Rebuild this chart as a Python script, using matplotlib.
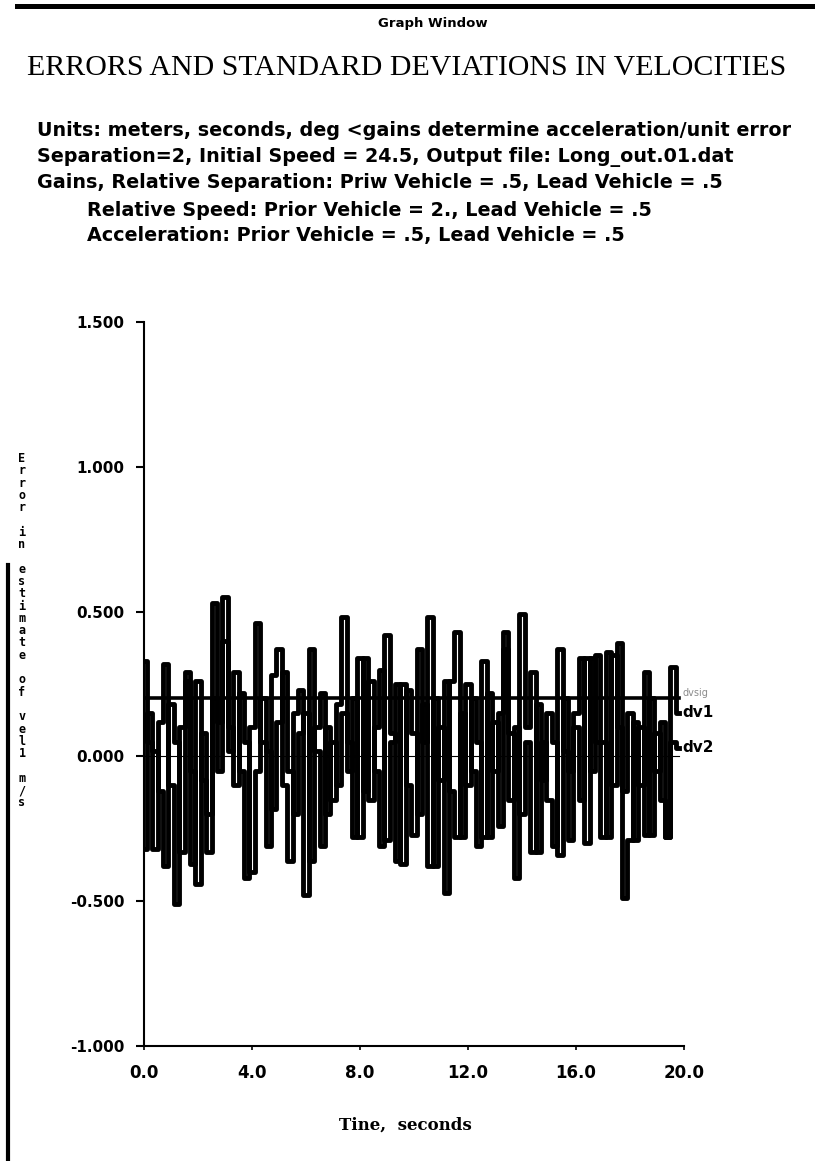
import matplotlib
matplotlib.use("Agg")
import matplotlib.pyplot as plt
from matplotlib.lines import Line2D
from matplotlib.patches import Rectangle
import numpy as np

# time base (s) and the two velocity error series
t = [round(0.2 * i, 1) for i in range(100)]

dv1 = [0.33, 0.05, -0.32, 0.12, 0.32, -0.10, -0.51, 0.10, 0.29, -0.05,
       -0.44, 0.08, -0.20, 0.53, 0.12, 0.40, 0.02, 0.29, -0.05, -0.42,
       0.10, 0.46, 0.05, -0.31, 0.28, 0.37, -0.10, -0.36, 0.15, 0.23,
       -0.48, 0.37, 0.02, -0.31, 0.10, -0.15, 0.18, 0.48, 0.05, -0.28,
       0.34, -0.12, 0.26, -0.05, -0.31, 0.42, 0.08, -0.36, 0.25, -0.10,
       -0.27, 0.37, 0.05, 0.48, -0.38, 0.10, -0.47, 0.26, 0.43, -0.28,
       0.25, -0.05, -0.31, 0.33, -0.28, 0.12, -0.24, 0.43, 0.08, -0.42,
       0.49, 0.10, 0.29, -0.33, 0.05, -0.15, -0.31, 0.37, 0.02, -0.29,
       0.15, 0.34, -0.30, 0.34, 0.05, -0.28, 0.36, -0.10, 0.39, -0.49,
       -0.29, 0.12, -0.10, 0.29, -0.27, 0.08, -0.15, -0.28, 0.31, 0.15]

dv2 = [-0.32, 0.15, 0.02, -0.12, -0.38, 0.18, 0.05, -0.33, 0.26, -0.37,
       0.26, -0.08, -0.33, 0.20, -0.05, 0.55, 0.10, -0.10, 0.22, 0.05,
       -0.40, -0.05, 0.20, 0.02, -0.18, 0.12, 0.29, -0.05, -0.20, 0.08,
       0.15, -0.36, 0.10, 0.22, -0.20, 0.05, -0.10, 0.15, -0.05, 0.20,
       -0.28, 0.34, -0.15, 0.10, 0.30, -0.29, 0.05, 0.25, -0.37, 0.23,
       0.08, -0.20, 0.18, -0.38, 0.20, -0.08, 0.26, -0.12, -0.28, 0.15,
       -0.10, 0.20, 0.05, -0.28, 0.22, -0.05, 0.15, 0.37, -0.15, 0.10,
       -0.20, 0.05, -0.33, 0.18, -0.08, 0.15, 0.05, -0.34, 0.20, -0.05,
       0.10, -0.15, 0.34, -0.05, 0.35, 0.05, -0.28, 0.35, 0.10, -0.12,
       0.15, -0.29, 0.10, -0.27, 0.20, -0.05, 0.12, -0.28, 0.05, 0.03]

dv_sigma = 0.2

x_ticks = [0.0, 4.0, 8.0, 12.0, 16.0, 20.0]
y_ticks = [-1.0, -0.5, 0.0, 0.5, 1.0, 1.5]

header_lines = [
    "Units: meters, seconds, deg <gains determine acceleration/unit error",
    "Separation=2, Initial Speed = 24.5, Output file: Long_out.01.dat",
    "Gains, Relative Separation: Priw Vehicle = .5, Lead Vehicle = .5",
    "Relative Speed: Prior Vehicle = 2., Lead Vehicle = .5",
    "Acceleration: Prior Vehicle = .5, Lead Vehicle = .5",
]

W, H = 815, 1161
fig = plt.figure(figsize=(W / 100, H / 100), dpi=100)
fig.patch.set_facecolor("white")


def fx(px):
    return px / W


def fy(py):
    return 1 - py / H


# window bar and caption
fig.add_artist(Rectangle((fx(15), fy(9)), fx(800), 5 / H, transform=fig.transFigure,
                         color="black", lw=0))
fig.text(fx(433), fy(23), "Graph Window", ha="center", va="center",
         fontsize=9.5, fontweight="bold")
fig.text(fx(407), fy(68), "ERRORS AND STANDARD DEVIATIONS IN VELOCITIES",
         ha="center", va="center", fontsize=21.5, family="Liberation Serif")

xs = [37, 37, 37, 87, 87]
ys = [131, 157, 183, 210, 236]
for x0, y0, line in zip(xs, ys, header_lines):
    fig.text(fx(x0), fy(y0), line, ha="left", va="center",
             fontsize=13.8, fontweight="bold")

# left border line
fig.add_artist(Line2D([fx(8), fx(8)], [fy(565), 0], transform=fig.transFigure,
                      color="black", lw=3))

ax = fig.add_axes([fx(144), fy(1046), fx(684 - 144), (1046 - 322) / H])
ax.plot(t, dv1, color="black", lw=3.5, drawstyle="steps-mid")
ax.plot(t, dv2, color="black", lw=3.5, drawstyle="steps-mid")
ax.plot([t[0], t[-1]], [dv_sigma, dv_sigma], color="black", lw=2.6)
ax.plot([t[0], t[-1]], [0, 0], color="black", lw=0.8)

ax.set_xlim(0, 20)
ax.set_ylim(-1.0, 1.5)
ax.set_xticks(x_ticks)
ax.set_xticklabels([f"{v:.1f}" for v in x_ticks])
ax.set_yticks(y_ticks)
ax.set_yticklabels([f"{v:.3f}" for v in y_ticks])
for s in ["top", "right"]:
    ax.spines[s].set_visible(False)
ax.spines["left"].set_linewidth(1.5)
ax.spines["bottom"].set_linewidth(1.5)
ax.tick_params(axis="y", direction="out", length=6, width=1.5, labelsize=11, pad=8)
ax.tick_params(axis="x", direction="out", length=3, width=1.2, labelsize=12, pad=10)
for lab in ax.get_xticklabels() + ax.get_yticklabels():
    lab.set_fontweight("bold")

# series labels at the right end
ax.text(19.95, dv_sigma + 0.02, "dvsig", fontsize=7, color="0.55",
        va="center", ha="left", clip_on=False)
ax.text(19.95, dv1[-1], "dv1", fontsize=11, fontweight="bold",
        va="center", ha="left", clip_on=False)
ax.text(19.95, dv2[-1], "dv2", fontsize=11, fontweight="bold",
        va="center", ha="left", clip_on=False)

# stacked vertical y label and x label
ylabel = "\n".join(list("Error in estimate of vel1 m/s"))
fig.text(fx(22), fy(452), ylabel, ha="center", va="top", fontsize=8.5,
         fontweight="bold", family="DejaVu Sans Mono", linespacing=0.93)
fig.text(fx(405), fy(1125), "Tine,  seconds", ha="center", va="center",
         fontsize=12, fontweight="bold", family="DejaVu Serif")

fig.savefig("out.png", dpi=100)
